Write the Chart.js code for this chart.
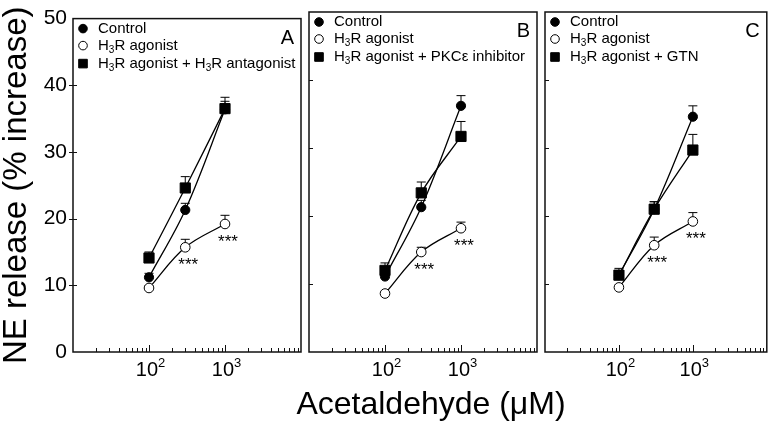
<!DOCTYPE html>
<html>
<head>
<meta charset="utf-8">
<script src="https://cdn.jsdelivr.net/npm/chart.js@4"></script>
<style>
  html, body { margin: 0; padding: 0; background: #fff; }
  #wrap { position: relative; width: 775px; height: 428px; }
  #wrap canvas { position: absolute; left: 0; top: 0; }
</style>
</head>
<body>
<div id="wrap">
  <canvas id="panelA" width="775" height="428"></canvas>
  <canvas id="panelB" width="775" height="428"></canvas>
  <canvas id="panelC" width="775" height="428"></canvas>
</div>
<script>
// acetaldehyde doses (uM) and axis ticks
const doses = [100, 300, 1000]
const yTicks = [0, 10, 20, 30, 40, 50]
const xMajors = [10, 100, 1000, 10000]
// base and exponent of the labelled decades
const xTickLabels = { 100: ['10', '2'], 1000: ['10', '3'] }

// panel A
const controlA = [11.2, 21.3, 36.4]
const controlAErr = [0.6, 1.0, 1.8]
const agonistA = [9.6, 15.7, 19.2]
const agonistAErr = [0.3, 1.2, 1.3]
const antagonistA = [14.1, 24.6, 36.5]
const antagonistAErr = [0.9, 1.7, 1.1]

// panel B
const controlB = [11.1, 21.3, 36.2]
const controlBErr = [0.6, 1.0, 1.5]
const agonistB = [8.6, 14.7, 18.2]
const agonistBErr = [0.3, 0.7, 0.9]
const pkcB = [12.0, 23.4, 31.7]
const pkcBErr = [1.1, 1.6, 2.2]

// panel C
const controlC = [11.3, 21.0, 34.6]
const controlCErr = [0.6, 1.1, 1.6]
const agonistC = [9.5, 15.7, 19.2]
const agonistCErr = [0.3, 1.2, 1.3]
const gtnC = [11.3, 21.0, 29.7]
const gtnCErr = [1.0, 1.1, 2.3]

const stars = ['', '***', '***']

const FONT = '"Liberation Sans", Arial, sans-serif'
Chart.defaults.font.family = FONT
Chart.defaults.color = '#000'

// minor tick positions for the log axis (2..9 x each decade)
const xTickValues = []
xMajors.forEach((m, i) => {
  xTickValues.push(m)
  if (i < xMajors.length - 1) for (let k = 2; k < 10; k++) xTickValues.push(m * k)
})

function drawRichText(ctx, text, x, y, size) {
  const parts = text.split(/_(\d)/)
  parts.forEach((p, i) => {
    if (i % 2) {
      ctx.font = `${Math.round(size * 0.68)}px ${FONT}`
      ctx.fillText(p, x, y + size * 0.28)
    } else {
      ctx.font = `${size}px ${FONT}`
      ctx.fillText(p, x, y)
    }
    x += ctx.measureText(p).width
  })
}

function makeDecor(letter, showY, xTitle) {
  return {
    id: 'decor' + letter,
    beforeDatasetsDraw(chart) {
      // error bars (upper only)
      const ctx = chart.ctx
      const ys = chart.scales.y
      ctx.save()
      ctx.strokeStyle = '#000'
      ctx.lineWidth = 1
      chart.data.datasets.forEach((ds, di) => {
        const meta = chart.getDatasetMeta(di)
        meta.data.forEach((pt, i) => {
          const e = ds.err[i]
          if (!e) return
          const yTop = ys.getPixelForValue(ds.data[i].y + e)
          ctx.beginPath()
          ctx.moveTo(pt.x, pt.y)
          ctx.lineTo(pt.x, yTop)
          ctx.moveTo(pt.x - 4.5, yTop)
          ctx.lineTo(pt.x + 4.5, yTop)
          ctx.stroke()
        })
      })
      ctx.restore()
    },
    afterDatasetsDraw(chart) {
      const ctx = chart.ctx
      const a = chart.chartArea
      const xs = chart.scales.x
      const ys = chart.scales.y
      ctx.save()
      ctx.strokeStyle = '#111'
      ctx.fillStyle = '#000'

      // frame
      ctx.lineWidth = 1.5
      ctx.strokeRect(a.left, a.top, a.right - a.left, a.bottom - a.top)

      // x ticks (inward)
      ctx.lineWidth = 1
      ctx.beginPath()
      xs.ticks.forEach(t => {
        const px = Math.round(xs.getPixelForValue(t.value)) + 0.5
        if (px <= a.left + 1 || px >= a.right - 1) return
        const major = Math.abs(Math.log10(t.value) % 1) < 1e-9
        ctx.moveTo(px, a.bottom)
        ctx.lineTo(px, a.bottom - (major ? 7 : 4))
      })
      // y ticks
      ys.ticks.forEach(t => {
        const py = Math.round(ys.getPixelForValue(t.value)) + 0.5
        if (py <= a.top + 1 || py >= a.bottom - 1) return
        ctx.moveTo(a.left - (showY ? 4 : 0), py)
        ctx.lineTo(a.left + 4, py)
      })
      ctx.stroke()

      // x tick labels with superscript exponent
      ctx.textBaseline = 'alphabetic'
      Object.keys(xTickLabels).forEach(v => {
        const px = xs.getPixelForValue(Number(v))
        const [base, exp] = xTickLabels[v]
        ctx.font = `20px ${FONT}`
        ctx.textAlign = 'right'
        ctx.fillText(base, px + 9, a.bottom + 24)
        ctx.font = `13px ${FONT}`
        ctx.textAlign = 'left'
        ctx.fillText(exp, px + 9, a.bottom + 15)
      })

      // significance stars
      ctx.textAlign = 'center'
      ctx.font = `17px ${FONT}`
      chart.data.datasets.forEach((ds, di) => {
        if (!ds.stars) return
        chart.getDatasetMeta(di).data.forEach((pt, i) => {
          if (ds.stars[i]) ctx.fillText(ds.stars[i], pt.x + 3, pt.y + 23)
        })
      })

      // legend
      ctx.textAlign = 'left'
      ctx.textBaseline = 'middle'
      const rows = [10, 27, 45]
      chart.data.datasets.forEach((ds, r) => {
        const y = a.top + rows[r]
        ctx.fillStyle = ds.pointBackgroundColor
        ctx.strokeStyle = '#000'
        ctx.lineWidth = 1
        ctx.beginPath()
        if (ds.pointStyle === 'rect') ctx.rect(a.left + 10 - 4.3, y - 4.3, 8.6, 8.6)
        else ctx.arc(a.left + 10, y, 4.3, 0, Math.PI * 2)
        ctx.fill()
        ctx.stroke()
        ctx.fillStyle = '#000'
        drawRichText(ctx, ds.label, a.left + 25, y, 15)
      })

      // panel letter
      ctx.textAlign = 'right'
      ctx.textBaseline = 'alphabetic'
      ctx.font = `20px ${FONT}`
      ctx.fillText(letter, a.right - 7, a.top + 25)

      // shared x title
      if (xTitle) {
        ctx.textAlign = 'center'
        ctx.font = `32px ${FONT}`
        ctx.fillText(xTitle, 431, 414)
      }
      ctx.restore()
    }
  }
}

function makePanel(id, letter, left, right, showY, series, xTitle) {
  const styles = {
    filled: { pointStyle: 'circle', pointRadius: 4.6, pointBackgroundColor: '#000', order: 2 },
    open: { pointStyle: 'circle', pointRadius: 4.8, pointBackgroundColor: '#fff', order: 1 },
    square: { pointStyle: 'rect', pointRadius: 7.2, pointBackgroundColor: '#000', order: 0 }
  }
  new Chart(document.getElementById(id), {
    type: 'line',
    data: {
      datasets: series.map(s => Object.assign({
        label: s.label,
        data: doses.map((d, i) => ({ x: d, y: s.values[i] })),
        err: s.err,
        stars: s.stars,
        borderColor: '#000',
        borderWidth: 1.3,
        tension: 0.35,
        pointBorderColor: '#000',
        pointBorderWidth: 1,
        fill: false
      }, styles[s.style]))
    },
    options: {
      responsive: false,
      animation: false,
      events: [],
      layout: { padding: { left: showY ? 0 : left, right: 775 - right, top: 12, bottom: 0 } },
      plugins: { legend: { display: false }, tooltip: { enabled: false } },
      scales: {
        x: {
          type: 'logarithmic',
          min: 10,
          max: 10000,
          afterBuildTicks: s => { s.ticks = xTickValues.map(v => ({ value: v })) },
          afterFit: s => { s.height = 76 },
          grid: { display: false, drawTicks: false },
          border: { display: false },
          ticks: { autoSkip: false, maxRotation: 0, callback: () => '' }
        },
        y: {
          min: 0,
          max: 50,
          afterBuildTicks: s => { s.ticks = yTicks.map(v => ({ value: v })) },
          afterFit: s => { s.width = showY ? left : 0 },
          grid: { display: false, drawTicks: false },
          border: { display: false },
          ticks: { display: showY, padding: 6, font: { size: 21 } },
          title: {
            display: showY,
            text: 'NE release (% increase)',
            font: { size: 33, lineHeight: 1 },
            padding: 0
          }
        }
      }
    },
    plugins: [makeDecor(letter, showY, xTitle)]
  })
}

makePanel('panelA', 'A', 73, 301, true, [
  { label: 'Control', values: controlA, err: controlAErr, style: 'filled' },
  { label: 'H_3R agonist', values: agonistA, err: agonistAErr, style: 'open', stars: stars },
  { label: 'H_3R agonist + H_3R antagonist', values: antagonistA, err: antagonistAErr, style: 'square' }
])

makePanel('panelB', 'B', 309, 537, false, [
  { label: 'Control', values: controlB, err: controlBErr, style: 'filled' },
  { label: 'H_3R agonist', values: agonistB, err: agonistBErr, style: 'open', stars: stars },
  { label: 'H_3R agonist + PKCε inhibitor', values: pkcB, err: pkcBErr, style: 'square' }
], 'Acetaldehyde (μM)')

makePanel('panelC', 'C', 545, 772, false, [
  { label: 'Control', values: controlC, err: controlCErr, style: 'filled' },
  { label: 'H_3R agonist', values: agonistC, err: agonistCErr, style: 'open', stars: stars },
  { label: 'H_3R agonist + GTN', values: gtnC, err: gtnCErr, style: 'square' }
])
</script>
</body>
</html>
